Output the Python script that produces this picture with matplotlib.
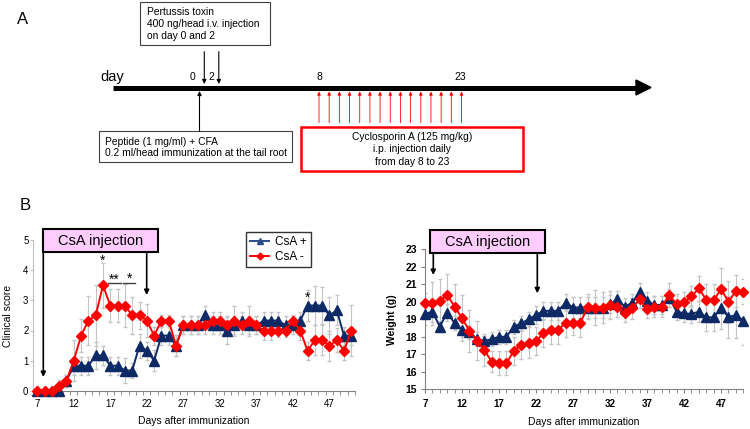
import numpy as np
import matplotlib
matplotlib.use('Agg')
import matplotlib.pyplot as plt
from matplotlib.patches import Rectangle, Polygon
from matplotlib.lines import Line2D

plt.rcParams['font.family'] = ['Liberation Sans', 'DejaVu Sans']

# days after immunization
days = list(range(7, 51))
label_days = [7, 12, 17, 22, 27, 32, 37, 42, 47]

# clinical score
score_pos = [0, 0, 0, 0, 0.33, 0.83, 0.83, 0.83, 1.17, 1.17, 0.83, 0.83, 0.67, 0.67,
             1.5, 1.33, 1.0, 1.83, 1.83, 1.5, 2.17,
             2.17, 2.17, 2.5, 2.17, 2.17, 2.0, 2.17, 2.33, 2.17, 2.17, 2.33, 2.33, 2.33,
             2.17, 2.17, 2.33, 2.83, 2.83, 2.83, 2.5, 2.67, 1.83, 1.83]
score_pos_err = [0, 0, 0, 0, 0.2, 0.3, 0.3, 0.3, 0.45, 0.3, 0.3, 0.3, 0.4, 0.25,
                 0.4, 0.3, 0.35, 0.3, 0.3, 0.35, 0.3,
                 0.3, 0.3, 0.3, 0.3, 0.3, 0.45, 0.3, 0.3, 0.3, 0.3, 0.3, 0.3, 0.3,
                 0.3, 0.3, 0.3, 0.5, 0.65, 0.6, 0.6, 0.5, 0.3, 0.3]
score_neg = [0, 0, 0, 0.17, 0.33, 1.0, 1.83, 2.33, 2.5, 3.5, 2.83, 2.83, 2.83, 2.5,
             2.5, 2.33, 1.83, 2.33, 2.33, 1.5, 2.17, 2.17,
             2.17, 2.17, 2.33, 2.33, 2.17, 2.33, 2.17, 2.33, 2.17, 2.0, 2.0, 2.0,
             2.0, 2.33, 2.0, 1.33, 1.67, 1.67, 1.5, 1.67, 1.33, 2.0]
score_neg_err = [0, 0, 0, 0.17, 0.2, 0.68, 0.55, 0.8, 1.0, 0.75, 0.55, 0.55, 0.7, 0.6,
                 0.45, 0.55, 0.3, 0.2, 0.2, 0.35, 0.3, 0.3,
                 0.3, 0.3, 0.3, 0.3, 0.3, 0.5, 0.3, 0.5, 0.3, 0.3, 0.3, 0.2,
                 0.2, 0.2, 0.3, 0.3, 0.5, 0.5, 0.5, 0.4, 0.3, 0.85]

# body weight (g)
w_pos = [19.3, 19.44, 18.58, 19.38, 18.77, 18.39, 18.3, 17.86, 17.76, 17.86, 18.0,
         18.0, 18.58, 18.77, 19.0, 19.25, 19.48, 19.48, 19.48, 19.95, 19.67, 19.67,
         19.67, 19.67, 19.67, 19.86, 20.14, 19.72, 19.95, 20.58, 20.07, 19.82, 19.82,
         20.2, 19.44, 19.34, 19.3, 19.44, 19.11, 19.11, 19.67, 19.11, 19.25, 18.92]
w_pos_err = [0.6, 0.6, 0.3, 0.5, 0.4, 0.4, 0.4, 0.4, 0.3, 0.4, 0.4,
             0.4, 0.4, 0.4, 0.4, 0.5, 0.5, 0.5, 0.5, 0.5, 0.6, 0.6,
             0.6, 0.6, 0.6, 0.5, 0.5, 0.5, 0.5, 0.5, 0.5, 0.5, 0.5,
             0.5, 0.5, 0.5, 0.5, 0.6, 0.8, 0.8, 1.2, 1.2, 1.3, 1.4]
w_neg = [19.9, 19.9, 20.07, 20.39, 19.72, 19.06, 18.35, 17.78, 17.25, 16.58, 16.49,
         16.49, 17.2, 17.53, 17.67, 17.76, 18.2, 18.39, 18.39, 18.81, 18.81, 18.81,
         19.72, 19.67, 19.67, 19.82, 19.72, 19.34, 19.63, 20.14, 19.57, 19.72, 19.72,
         20.39, 19.86, 19.97, 20.3, 20.77, 20.1, 20.1, 20.71, 20.0, 20.62, 20.58]
w_neg_err = [0.6, 1.2, 1.2, 1.2, 1.3, 1.3, 1.2, 1.1, 0.9, 0.6, 0.7,
             0.7, 0.8, 0.8, 0.9, 0.8, 0.8, 0.8, 0.8, 0.8, 0.7, 0.8,
             0.7, 1.0, 0.9, 0.8, 0.6, 0.5, 0.6, 0.5, 0.5, 0.6, 0.6,
             0.7, 0.6, 0.6, 0.6, 0.7, 0.9, 0.9, 1.2, 1.2, 0.9, 0.7]

blue = '#0D2A66'
red = '#FF0000'
errc = '#C4C4C4'

W, H = 750, 429
fig = plt.figure(figsize=(7.5, 4.29), dpi=100)


def rect(x0, y0, x1, y1):
    return [x0 / W, 1 - y1 / H, (x1 - x0) / W, (y1 - y0) / H]


# ---- clinical score ----
ax1 = fig.add_axes(rect(33.3, 240.2, 355, 390.7))
ax1.errorbar(days, score_pos, yerr=score_pos_err, fmt='none', ecolor=errc,
             elinewidth=0.8, capsize=1.5, zorder=1)
ax1.errorbar(days, score_neg, yerr=score_neg_err, fmt='none', ecolor=errc,
             elinewidth=0.8, capsize=1.5, zorder=1)
ax1.plot(days, score_pos, color=blue, marker='^', ms=7, lw=1.4, clip_on=False, zorder=3)
ax1.plot(days, score_neg, color=red, marker='D', ms=5.5, lw=1.4, clip_on=False, zorder=4)
ax1.set_xlim(6.46, 50.22)
ax1.set_ylim(0, 5)
ax1.set_xticks(label_days)
ax1.set_xticks(np.arange(6.5, 50.6, 1), minor=True)
ax1.tick_params(axis='x', which='major', length=0, labelsize=7, pad=6)
ax1.tick_params(axis='x', which='minor', length=3, color='#808080')
ax1.set_yticks(range(0, 6))
ax1.tick_params(axis='y', length=2, labelsize=7, pad=1.5, color='#BFBFBF')
for s in ['top', 'right']:
    ax1.spines[s].set_visible(False)
ax1.spines['left'].set_color('#BFBFBF')
ax1.spines['bottom'].set_color('#808080')
ax1.set_xlabel('Days after immunization', fontsize=7.5, labelpad=5)
ax1.set_ylabel('Clinical score', fontsize=7.5, labelpad=7)

ax1.text(16, 4.3, '*', ha='center', va='center', fontsize=10)
ax1.text(17.6, 3.68, '**', ha='center', va='center', fontsize=10)
ax1.text(19.6, 3.71, '*', ha='center', va='center', fontsize=10)
ax1.plot([16.75, 18.4], [3.57, 3.57], color='#404040', lw=1)
ax1.plot([18.8, 20.4], [3.57, 3.57], color='#404040', lw=1)
ax1.text(44, 3.08, '*', ha='center', va='center', fontsize=10)

handles = [Line2D([], [], color='#2B4C8C', marker='^', ms=4, lw=1.4),
           Line2D([], [], color=red, marker='D', ms=3.5, lw=1.4)]
leg = ax1.legend(handles, ['CsA +', 'CsA -'], loc='upper left',
                 bbox_to_anchor=(246 / W, 1 - 231.7 / H), bbox_transform=fig.transFigure,
                 fancybox=False, edgecolor='black', fontsize=8.5, handlelength=1.6,
                 borderpad=0.35, labelspacing=0.25, handletextpad=0.5, borderaxespad=0)
leg.get_frame().set_linewidth(1)

# ---- weight ----
ax2 = fig.add_axes(rect(425, 249.2, 743.3, 389.3))
ax2.errorbar(days, w_pos, yerr=w_pos_err, fmt='none', ecolor=errc,
             elinewidth=0.8, capsize=1.5, zorder=1)
ax2.errorbar(days, w_neg, yerr=w_neg_err, fmt='none', ecolor=errc,
             elinewidth=0.8, capsize=1.5, zorder=1)
ax2.plot(days, w_pos, color=blue, marker='^', ms=7, lw=1.4, clip_on=False, zorder=3)
ax2.plot(days, w_neg, color=red, marker='D', ms=5.5, lw=1.4, clip_on=False, zorder=4)
ax2.set_xlim(7, 50)
ax2.set_ylim(15, 23)
ax2.set_xticks(label_days)
ax2.set_xticks(days, minor=True)
ax2.tick_params(axis='x', which='both', length=3, color='#808080')
ax2.tick_params(axis='x', which='major', labelsize=7, pad=4)
ax2.set_yticks(range(15, 24))
ax2.tick_params(axis='y', length=3, labelsize=7.5, pad=3, color='#808080')
for lab in ax2.get_xticklabels() + ax2.get_yticklabels():
    lab.set_fontweight('bold')
for s in ['top', 'right']:
    ax2.spines[s].set_visible(False)
ax2.spines['left'].set_color('#808080')
ax2.spines['bottom'].set_color('#808080')
ax2.set_xlabel('Days after immunization', fontsize=7.5, labelpad=6)
ax2.set_ylabel('Weight (g)', fontsize=7.5, fontweight='bold', labelpad=6)

# ---- overlay: panel A schematic and CsA boxes ----
ov = fig.add_axes([0, 0, 1, 1], zorder=10)
ov.set_xlim(0, W)
ov.set_ylim(H, 0)
ov.axis('off')

ov.text(17, 19, 'A', fontsize=12, ha='left', va='center')
ov.text(20, 205, 'B', fontsize=12, ha='left', va='center')

# timeline
ov.plot([113, 637], [87.5, 87.5], color='black', lw=3.6, solid_capstyle='butt')
ov.add_patch(Polygon([(636, 80), (651, 87.5), (636, 95)], closed=True, color='black'))
ov.text(100, 80.5, 'day', fontsize=10.5, ha='left', va='baseline')
for x, t in [(192, '0'), (211, '2'), (319, '8'), (460.6, '23')]:
    ov.text(x, 77.5, t, fontsize=7.5, ha='center', va='center')

# pertussis toxin
ov.add_patch(Rectangle((140.4, 1.7), 129.8, 43.3, fill=False, ec='#404040', lw=0.8))
for y, t in [(12, 'Pertussis toxin'), (24, '400 ng/head i.v. injection'), (36, 'on day 0 and 2')]:
    ov.text(147, y, t, fontsize=7.4, ha='left', va='center')
for x in [204.3, 218.8]:
    ov.annotate('', xy=(x, 84), xytext=(x, 51.7),
                arrowprops=dict(arrowstyle='-|>', color='black', lw=0.8, mutation_scale=6,
                                shrinkA=0, shrinkB=0))

# peptide immunization
ov.add_patch(Rectangle((98.6, 131), 193.4, 31, fill=False, ec='#404040', lw=0.8))
ov.text(105, 142, 'Peptide (1 mg/ml) + CFA', fontsize=7.4, ha='left', va='center')
ov.text(105, 153.5, '0.2 ml/head immunization at the tail root', fontsize=7.4,
        ha='left', va='center')
ov.annotate('', xy=(199.5, 91), xytext=(199.5, 131),
            arrowprops=dict(arrowstyle='-|>', color='black', lw=0.8, mutation_scale=6,
                            shrinkA=0, shrinkB=0))

# cyclosporin A
for x in np.linspace(319, 461.5, 15):
    ov.annotate('', xy=(x, 91.5), xytext=(x, 122.7),
                arrowprops=dict(arrowstyle='-|>', color=red, lw=0.6, mutation_scale=5,
                                shrinkA=0, shrinkB=0))
ov.add_patch(Rectangle((300.5, 127), 222.5, 44, fill=False, ec=red, lw=1.8))
for y, t in [(137.3, 'Cyclosporin A (125 mg/kg)'), (149.5, 'i.p. injection daily'),
             (161.7, 'from day 8 to 23')]:
    ov.text(412, y, t, fontsize=7.4, ha='center', va='center')

# CsA injection boxes with arrows
for (x0, y0, x1, y1), (xa, ya), (xb, yb) in [
        ((43, 228.5, 158, 252), (43.3, 377), (146.7, 295)),
        ((430, 230, 545, 253.3), (433.3, 275), (537.3, 293.3))]:
    ov.add_patch(Rectangle((x0, y0), x1 - x0, y1 - y0, fc='#FFCCFF', ec='black', lw=1.5))
    ov.text((x0 + x1) / 2, (y0 + y1) / 2 + 0.5, 'CsA injection', fontsize=10.5,
            ha='center', va='center')
    for xx, yy in [(xa, ya), (xb, yb)]:
        ov.annotate('', xy=(xx, yy), xytext=(xx, y1),
                    arrowprops=dict(arrowstyle='-|>', color='black', lw=1.2,
                                    mutation_scale=7, shrinkA=0, shrinkB=0))

fig.savefig('out.png', dpi=100)
